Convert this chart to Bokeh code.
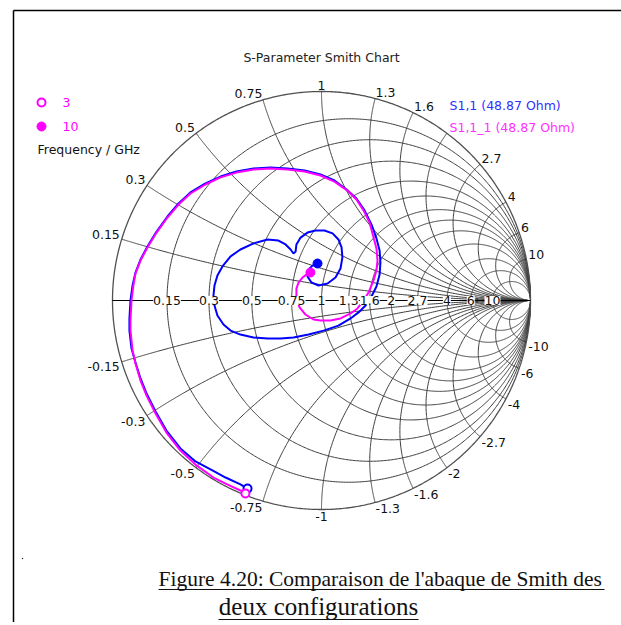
import numpy as np
from bokeh.plotting import figure
from bokeh.models import Range1d, Label
from bokeh.embed import file_html
from bokeh.resources import INLINE

# ---------------- data ----------------
r_values = [0.15, 0.3, 0.5, 0.75, 1, 1.3, 1.6, 2, 2.7, 4, 6, 10]
r_labels = ["0.15", "0.3", "0.5", "0.75", "1", "1.3", "1.6", "2", "2.7", "4", "6", "10"]
x_values = [0.15, 0.3, 0.5, 0.75, 1, 1.3, 1.6, 2, 2.7, 4, 6, 10]
x_labels_pos = ["0.15", "0.3", "0.5", "0.75", "1", "1.3", "1.6", "", "2.7", "4", "6", "10"]
x_labels_neg = ["-0.15", "-0.3", "-0.5", "-0.75", "-1", "-1.3", "-1.6", "-2", "-2.7", "-4", "-6", "-10"]
marker_freqs = ["3", "10"]
series_names = ["S1,1 (48.87 Ohm)", "S1,1_1 (48.87 Ohm)"]

# S1,1 (blue) reflection coefficient, 3 GHz -> 10 GHz
s11_re = [-0.354, -0.388, -0.459, -0.522, -0.603, -0.675, -0.742, -0.794, -0.837, -0.866,
          -0.890, -0.909, -0.919, -0.919, -0.914, -0.904, -0.890, -0.866, -0.833, -0.789,
          -0.737, -0.684, -0.627, -0.555, -0.483, -0.407, -0.325, -0.244, -0.163, -0.081,
          -0.005, 0.062, 0.120, 0.167, 0.206, 0.239, 0.263, 0.278, 0.282, 0.278,
          0.263, 0.239, 0.211, 0.177, 0.139, 0.081, 0.010, -0.062, -0.134, -0.196,
          -0.258, -0.325, -0.388, -0.435, -0.469, -0.498, -0.512, -0.517, -0.512, -0.498,
          -0.474, -0.435, -0.388, -0.325, -0.258, -0.206, -0.172, -0.148, -0.134, -0.124,
          -0.120, -0.100, -0.067, -0.029, 0.014, 0.053, 0.081, 0.096, 0.100, 0.091,
          0.067, 0.029, -0.014, -0.048, -0.067, -0.062, -0.043, -0.019]
s11_im = [-0.900, -0.880, -0.847, -0.813, -0.770, -0.708, -0.622, -0.531, -0.445, -0.373,
          -0.297, -0.230, -0.144, -0.086, 0.000, 0.072, 0.134, 0.196, 0.258, 0.330,
          0.402, 0.464, 0.517, 0.560, 0.593, 0.617, 0.632, 0.636, 0.632, 0.622,
          0.603, 0.574, 0.531, 0.488, 0.431, 0.364, 0.297, 0.239, 0.182, 0.124,
          0.067, 0.019, -0.024, -0.057, -0.086, -0.120, -0.144, -0.163, -0.177, -0.182,
          -0.182, -0.177, -0.163, -0.144, -0.115, -0.072, -0.024, 0.024, 0.072, 0.120,
          0.163, 0.211, 0.244, 0.273, 0.292, 0.287, 0.268, 0.244, 0.225, 0.234,
          0.268, 0.301, 0.325, 0.335, 0.335, 0.321, 0.292, 0.254, 0.206, 0.153,
          0.110, 0.081, 0.072, 0.086, 0.115, 0.148, 0.167, 0.177]

# S1,1_1 (magenta) reflection coefficient, 3 GHz -> 10 GHz
s11_1_re = [-0.364, -0.388, -0.459, -0.517, -0.603, -0.675, -0.742, -0.794, -0.837, -0.866,
            -0.890, -0.904, -0.914, -0.914, -0.909, -0.900, -0.890, -0.866, -0.833, -0.789,
            -0.737, -0.684, -0.627, -0.555, -0.483, -0.407, -0.325, -0.244, -0.163, -0.081,
            -0.005, 0.062, 0.124, 0.167, 0.201, 0.230, 0.249, 0.263, 0.268, 0.263,
            0.249, 0.225, 0.201, 0.172, 0.139, 0.091, 0.043, -0.005, -0.038, -0.077,
            -0.105, -0.120, -0.120, -0.110, -0.091, -0.072, -0.053]
s11_1_im = [-0.923, -0.909, -0.876, -0.847, -0.785, -0.718, -0.632, -0.541, -0.455, -0.383,
            -0.301, -0.239, -0.144, -0.096, 0.000, 0.072, 0.129, 0.191, 0.254, 0.325,
            0.397, 0.459, 0.512, 0.555, 0.589, 0.612, 0.627, 0.632, 0.627, 0.617,
            0.598, 0.569, 0.526, 0.483, 0.431, 0.373, 0.301, 0.249, 0.191, 0.144,
            0.096, 0.038, 0.000, -0.038, -0.062, -0.086, -0.096, -0.096, -0.091, -0.067,
            -0.033, 0.014, 0.057, 0.086, 0.110, 0.124, 0.134]

# ---------------- layout (pixel geometry of the page) ----------------
OFF = 0                  # page offset of the figure
W, H = 621, 622          # figure size
CX, CY, RAD = 321, 300, 209   # chart centre / radius in page pixels

def P(px, py):
    """page pixel -> chart (Gamma) coordinates"""
    return (px - CX) / RAD, (CY - py) / RAD

x0, y1 = P(OFF, OFF)
x1, y0 = P(OFF + W, OFF + H)

p = figure(width=W, height=H, output_backend="svg", toolbar_location=None,
           x_range=Range1d(x0, x1), y_range=Range1d(y0, y1),
           min_border=0, outline_line_color=None)
p.axis.visible = False
p.grid.visible = False
p.background_fill_color = "white"
p.border_fill_color = "white"

FONT = "DejaVu Sans"
FS = "12.5px"
GRID = "#3c3c3c"

# frame of the picture
fx, fy = P(13, 10)
fx2, _ = P(625, 10)
_, fy2 = P(13, 630)
p.line([fx, fx2], [fy, fy], line_color="black", line_width=1.5)
p.line([fx, fx], [fy, fy2], line_color="black", line_width=1.5)

# ---------------- Smith grid ----------------
th = np.linspace(0, 2 * np.pi, 720)
rx, ry = [], []
for r in r_values:
    c = r / (1 + r)
    rr = 1 / (1 + r)
    rx.append(c + rr * np.cos(th))
    ry.append(rr * np.sin(th))
p.multi_line(rx, ry, line_color=GRID, line_width=1)

rr_s = np.concatenate([[0], np.logspace(-3, 4, 600)])
ax_, ay_ = [], []
for xv in x_values:
    for s in (1, -1):
        z = rr_s + 1j * s * xv
        g = (z - 1) / (z + 1)
        ax_.append(g.real)
        ay_.append(g.imag)
p.multi_line(ax_, ay_, line_color=GRID, line_width=1)

# outer circle and real axis
p.line(np.cos(th), np.sin(th), line_color="#505050", line_width=1.3)
p.line([-1, 1], [0, 0], line_color="black", line_width=1)

# resistance labels on the real axis
for r, t in zip(r_values, r_labels):
    gx = (r - 1) / (r + 1)
    p.add_layout(Label(x=gx, y=0, text=t, text_align="center", text_baseline="middle",
                       text_font=FONT, text_font_size=FS, text_color="#111111",
                       background_fill_color="white"))

# reactance labels around the outer circle
for xv, tp, tn in zip(x_values, x_labels_pos, x_labels_neg):
    for s, t in ((1, tp), (-1, tn)):
        if not t:
            continue
        g = (1j * s * xv - 1) / (1j * s * xv + 1)
        ang = np.angle(g)
        gx, gy = np.cos(ang), np.sin(ang)
        if gx > 0.05:
            al = "left"
        elif gx < -0.05:
            al = "right"
        else:
            al = "center"
        bl = "bottom" if s > 0 else "top"
        p.add_layout(Label(x=gx, y=gy, text=t, text_align=al, text_baseline=bl,
                           x_offset=2 * gx, y_offset=2 * gy,
                           text_font=FONT, text_font_size=FS, text_color="#111111"))

# ---------------- traces ----------------
BLUE = "#0000ff"
MAG = "#ff00ff"
p.line(s11_re, s11_im, line_color=BLUE, line_width=2)
p.line(s11_1_re, s11_1_im, line_color=MAG, line_width=2)
p.scatter([s11_re[0]], [s11_im[0]], marker="circle", size=8, fill_color="white",
          line_color=BLUE, line_width=2)
p.scatter([s11_1_re[0]], [s11_1_im[0]], marker="circle", size=8, fill_color="white",
          line_color=MAG, line_width=2)
p.scatter([s11_re[-1]], [s11_im[-1]], marker="circle", size=9, fill_color=BLUE,
          line_color=BLUE)
p.scatter([s11_1_re[-1]], [s11_1_im[-1]], marker="circle", size=9, fill_color=MAG,
          line_color=MAG)

# ---------------- title & legends ----------------
tx, ty = P(321, 57)
p.add_layout(Label(x=tx, y=ty, text="S-Parameter Smith Chart", text_align="center",
                   text_baseline="middle", text_font=FONT, text_font_size=FS,
                   text_color="#222222"))

# frequency marker legend
lx, ly = P(41, 102)
p.scatter([lx], [ly], marker="circle", size=8, fill_color="white", line_color=MAG, line_width=2)
lx2, ly2 = P(41, 126)
p.scatter([lx2], [ly2], marker="circle", size=9, fill_color=MAG, line_color=MAG)
for (px_, py_), t in zip([(62, 102), (62, 126)], marker_freqs):
    a, b = P(px_, py_)
    p.add_layout(Label(x=a, y=b, text=t, text_align="left", text_baseline="middle",
                       text_font=FONT, text_font_size=FS, text_color=MAG))
a, b = P(37, 149)
p.add_layout(Label(x=a, y=b, text="Frequency / GHz", text_align="left", text_baseline="middle",
                   text_font=FONT, text_font_size=FS, text_color="#111111"))

# series legend
for (px_, py_), t, col in zip([(449, 105), (449, 127)], series_names, ["#3030ff", "#ff30ff"]):
    a, b = P(px_, py_)
    p.add_layout(Label(x=a, y=b, text=t, text_align="left", text_baseline="middle",
                       text_font=FONT, text_font_size=FS, text_color=col,
                       background_fill_color="white"))

# ---------------- caption ----------------
CAP_FONT = "Liberation Serif"
cap1 = "Figure 4.20: Comparaison de l'abaque de Smith des"
cap2 = "deux configurations"
a, b = P(158, 578)
p.add_layout(Label(x=a, y=b, text=cap1, text_align="left", text_baseline="middle",
                   text_font=CAP_FONT, text_font_size="21.5px", text_color="#111111"))
u1a, u1y = P(158, 589)
u1b, _ = P(604, 589)
p.line([u1a, u1b], [u1y, u1y], line_color="#111111", line_width=1.2)
a, b = P(318, 606)
p.add_layout(Label(x=a, y=b, text=cap2, text_align="center", text_baseline="middle",
                   text_font=CAP_FONT, text_font_size="25px", text_color="#111111"))
u2a, u2y = P(218, 619)
u2b, _ = P(418, 619)
p.line([u2a, u2b], [u2y, u2y], line_color="#111111", line_width=1.2)

dx, dy = P(22, 558)
p.scatter([dx], [dy], marker="circle", size=1.5, fill_color="#333333", line_color=None)

open("out.html", "w").write(file_html(p, INLINE))
